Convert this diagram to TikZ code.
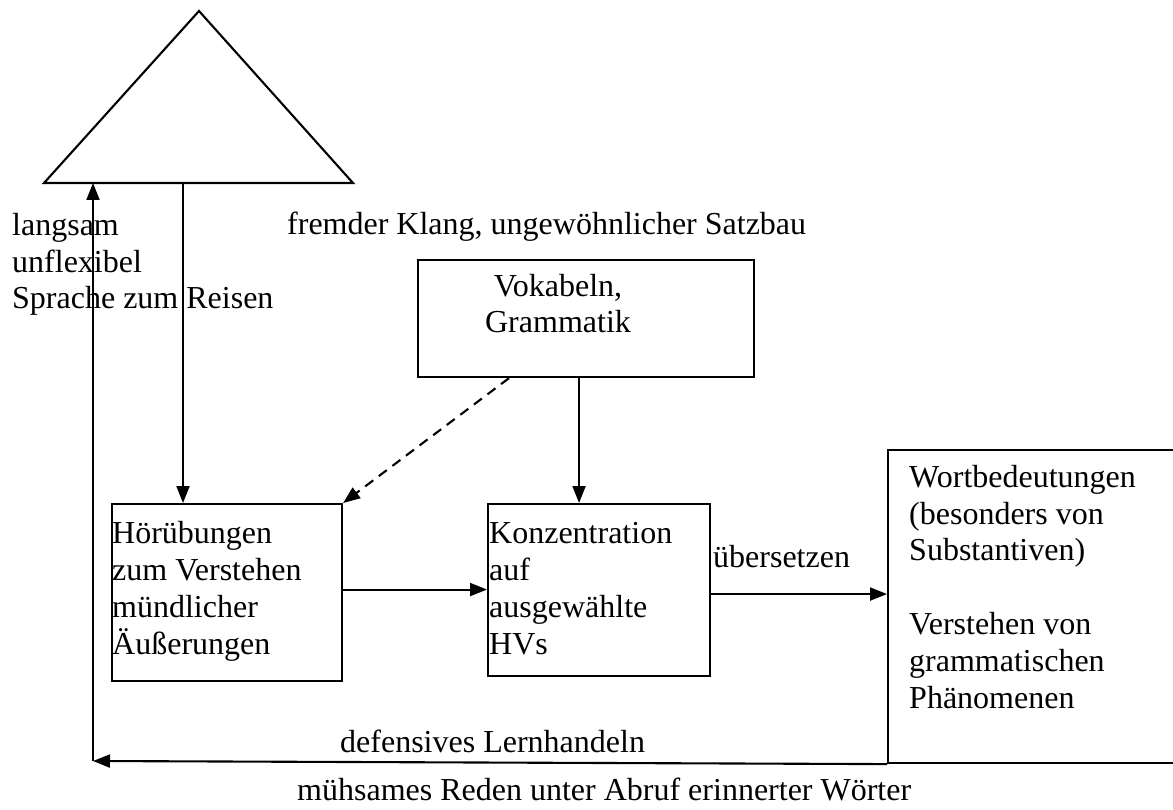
\documentclass[tikz,border=0pt]{standalone}
\usepackage{fontspec}
\setmainfont{Liberation Serif}
\usetikzlibrary{arrows.meta}
\begin{document}
\begin{tikzpicture}[x=1pt,y=-1pt,
  lw/.style={line width=2.1pt},
  box/.style={draw, lw, rectangle, inner sep=0pt, anchor=north west},
  arr/.style={lw, -{Triangle[length=17pt,width=13pt]}},
  txt/.style={inner sep=0pt, font=\fontsize{32}{36.8}\selectfont, align=left, anchor=base west},
]
\useasboundingbox (0,0) rectangle (1173,810);

% triangle
\coordinate (apex) at (199,11);
\coordinate (tl) at (44,183);
\coordinate (tr) at (353,183);
\draw[lw, line join=miter] (tl) -- (apex) -- (tr) -- cycle;

% boxes
\node[box, minimum width=336pt, minimum height=117pt] (voc)  at (417,259) {};
\node[box, minimum width=230pt, minimum height=177pt] (hoer) at (111,503) {};
\node[box, minimum width=222pt, minimum height=172pt] (konz) at (487,503) {};
\node[box, minimum width=300pt, minimum height=313pt] (wort) at (887,449) {};

% texts (the base anchor of a multi-line text lies on its last line)
\node[txt] (slow) at (12,309) {langsam\\unflexibel\\Sprache zum Reisen};
\node[txt] (klang) at (287,235) {fremder Klang, ungewöhnlicher Satzbau};
\node[txt, align=center, anchor=base] (voct) at (558,333) {Vokabeln,\\Grammatik};
\node[txt] (hoert) at (112,654) {Hörübungen\\zum Verstehen\\mündlicher\\Äußerungen};
\node[txt] (konzt) at (489,654) {Konzentration\\auf\\ausgewählte\\HVs};
\node[txt] (uebers) at (713,567) {übersetzen};
\node[txt] (wortt) at (909,708) {Wortbedeutungen\\(besonders von\\Substantiven)\\[36.8pt]Verstehen von\\grammatischen\\Phänomenen};
\node[txt] (defens) at (340,752) {defensives Lernhandeln};
\node[txt] (muehs) at (297,800) {mühsames Reden unter Abruf erinnerter Wörter};

% connectors
\coordinate (tdown) at (183,183);
\draw[arr] (tdown) -- (tdown |- hoer.north);
\draw[arr] ([yshift=3pt]hoer.east) -- ([yshift=3pt]hoer.east -| konz.west);
\draw[arr] ([yshift=-4pt]konz.east) -- ([yshift=-4pt]konz.east -| wort.west);
\draw[arr] ([xshift=-7pt]voc.south) -- ([xshift=-7pt]voc.south |- konz.north);
\draw[arr, dash pattern=on 10pt off 7pt] ([xshift=-77pt]voc.south) -- (hoer.north east);

% feedback loop
\coordinate (corner) at (93,761);
\draw[arr] (wort.south west) -- (corner);
\draw[arr] (corner) -- (corner |- tl);
\end{tikzpicture}
\end{document}
